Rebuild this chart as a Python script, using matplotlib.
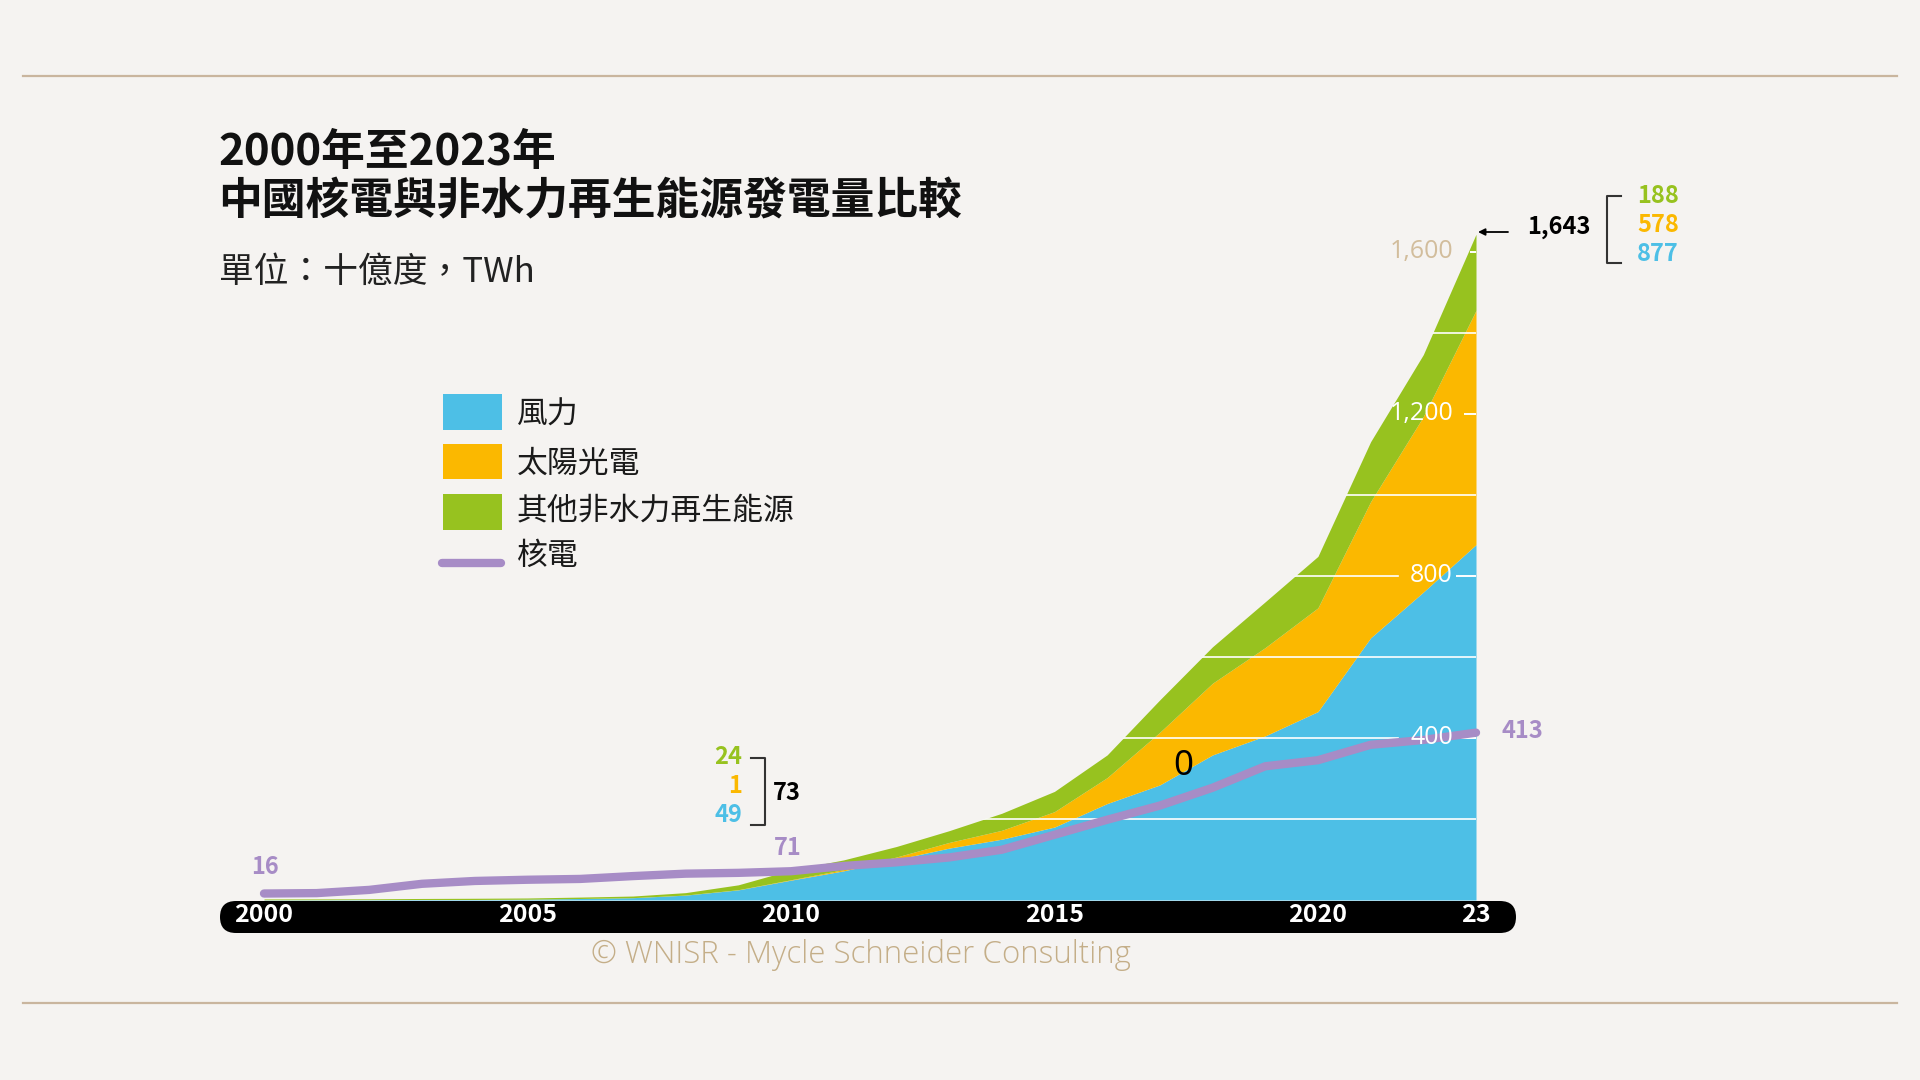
import matplotlib
matplotlib.use("Agg")
import matplotlib.pyplot as plt
from matplotlib import font_manager
from matplotlib.patches import FancyBboxPatch, Rectangle
from matplotlib.lines import Line2D
from matplotlib.transforms import IdentityTransform
import numpy as np

# ---------------- data ----------------
years = list(range(2000, 2024))
wind = [0.6, 0.7, 0.9, 1.3, 1.3, 2, 3.7, 5.7, 12, 25, 49, 72, 100, 128, 150, 180,
        238, 284, 358, 405, 465, 647, 760, 877]
solar = [0, 0, 0, 0, 0, 0, 0, 0.1, 0.2, 0.4, 1, 3, 6, 14, 22, 38,
         64, 130, 177, 218, 256, 336, 433, 578]
other = [2, 2, 2, 2.5, 3, 3, 3.5, 4, 6, 12, 24, 24, 26, 29, 42, 50,
         56, 80, 90, 113, 127, 148, 153, 188]
nuclear = [16, 17, 25, 40, 47, 50, 52, 59, 65, 67, 71, 84, 93, 105, 124, 161,
           198, 233, 277, 330, 345, 383, 395, 413]
series_names = ["風力", "太陽光電", "其他非水力再生能源", "核電"]
xtick_years = [2000, 2005, 2010, 2015, 2020, 2023]
xtick_labels = ["2000", "2005", "2010", "2015", "2020", "23"]
ytick_values = [400, 800, 1200, 1600]
ytick_labels = ["400", "800", "1,200", "1,600"]
grid_values = [200, 400, 600, 800, 1000, 1200, 1400, 1600]
title_lines = ["2000年至2023年", "中國核電與非水力再生能源發電量比較"]
subtitle = "單位：十億度，TWh"
credit = "© WNISR - Mycle Schneider Consulting"
ann_2010 = {"other": "24", "solar": "1", "wind": "49", "total": "73", "nuc": "71"}
ann_2023 = {"other": "188", "solar": "578", "wind": "877", "total": "1,643", "nuc": "413"}
ann_2000_nuc = "16"
stray_label = "0"

# ---------------- style ----------------
BG = "#f5f3f1"
C_WIND = "#4dbfe6"
C_SOLAR = "#fbb800"
C_OTHER = "#97c21f"
C_NUC = "#a78cc6"
C_TAN = "#c9b59e"
C_TICKTAN = "#d2bd9c"
C_CREDIT = "#c4ae88"

CJK = ["Noto Sans CJK TC", "DejaVu Sans"]
names = {f.name for f in font_manager.fontManager.ttflist}
OPEN = "Open Sans" if "Open Sans" in names else "DejaVu Sans"

plt.rcParams["font.family"] = CJK

W, H = 1920, 1080
fig = plt.figure(figsize=(19.2, 10.8), dpi=100, facecolor=BG)


def P(x, ytop):
    return (x / W, 1 - ytop / H)


# axes geometry: 2000 -> 264 px, 2023 -> 1476 px; 0 -> 900 px (from top), 0.4052 px per TWh
X0, X1 = 264, 1476
Y0 = 900
PPU = 0.4052
YMAX = 1700
ax = fig.add_axes([X0 / W, (H - Y0) / H, (X1 - X0) / W, YMAX * PPU / H])
ax.set_xlim(2000, 2023)
ax.set_ylim(0, YMAX)
ax.axis("off")
ax.set_facecolor("none")

yrs = np.array(years)
w = np.array(wind, dtype=float)
s = np.array(solar, dtype=float)
o = np.array(other, dtype=float)
ws = w + s
tot = ws + o

ax.fill_between(yrs, 0, w, color=C_WIND, lw=0, zorder=1, clip_on=False)
ax.fill_between(yrs, w, ws, color=C_SOLAR, lw=0, zorder=1, clip_on=False)
ax.fill_between(yrs, ws, tot, color=C_OTHER, lw=0, zorder=1, clip_on=False)
clip_poly = ax.fill_between(yrs, 0, tot, color="none", lw=0, zorder=0)
clip_path = clip_poly.get_paths()[0]


def px2x(px):
    return 2000 + (px - X0) / (X1 - X0) * 23


# gridlines (white, visible only inside filled area)
line_end = {400: 1398, 800: 1398, 1200: 1383, 1600: 1385}
dash_start = {400: 1458, 800: 1456, 1200: 1464, 1600: 1470}
for gv in grid_values:
    xend = px2x(line_end[gv]) if gv in line_end else 2023
    ln, = ax.plot([2000, xend], [gv, gv], color="white", lw=1.2, zorder=2)
    ln.set_clip_path(clip_path, ax.transData)
    if gv in dash_start:
        ax.plot([px2x(dash_start[gv]), 2023], [gv, gv], color="white", lw=1.4,
                zorder=2, solid_capstyle="butt")

for v, lab in zip(ytick_values, ytick_labels):
    col = C_TICKTAN if v == 1600 else "white"
    ax.text(px2x(1453), v, lab, ha="right", va="center", fontsize=18,
            family=[OPEN, "DejaVu Sans"], fontweight="normal", color=col, zorder=5)

# nuclear line
ax.plot(yrs, nuclear, color=C_NUC, lw=6, solid_capstyle="round",
        solid_joinstyle="round", zorder=4, clip_on=False)

# ---------------- figure decorations ----------------
fig.add_artist(Line2D([23 / W, 1897 / W], [1 - 76 / H] * 2, color=C_TAN, lw=1.6))
fig.add_artist(Line2D([23 / W, 1897 / W], [1 - 1003 / H] * 2, color=C_TAN, lw=1.6))

# titles
fig.text(*P(218, 152), title_lines[0], fontsize=31.5, fontweight="bold", va="center",
         ha="left", color="#111111")
fig.text(*P(218, 201), title_lines[1], fontsize=31.5, fontweight="bold", va="center",
         ha="left", color="#111111")
fig.text(*P(219, 272), subtitle, fontsize=25, va="center", ha="left", color="#222222")

# legend
leg_y = [(394, 430), (444, 479), (494, 530)]
for (yt, yb), c in zip(leg_y, [C_WIND, C_SOLAR, C_OTHER]):
    fig.add_artist(Rectangle(P(443, yb), 59 / W, (yb - yt) / H, facecolor=c,
                             edgecolor="none", transform=fig.transFigure))
fig.add_artist(Line2D([442 / W, 501 / W], [1 - 563 / H] * 2, color=C_NUC, lw=6,
                      solid_capstyle="round"))
for yc, name in zip([415, 464, 511, 556], series_names):
    fig.text(*P(517, yc), name, fontsize=22.2, va="center", ha="left", color="#1a1a1a")

# x-axis bar
fig.add_artist(FancyBboxPatch((220, H - 933), 1516 - 220, 32,
                              boxstyle="round,pad=0,rounding_size=16",
                              transform=IdentityTransform(), facecolor="black",
                              edgecolor="none"))
for yv, lab in zip(xtick_years, xtick_labels):
    xp = X0 + (yv - 2000) / 23 * (X1 - X0)
    fig.text(*P(xp, 915), lab, fontsize=18, fontweight="bold", color="white",
             ha="center", va="center")

# credit
fig.text(*P(861, 955), credit, fontsize=22.5, color=C_CREDIT, ha="center", va="center",
         family=[OPEN, "DejaVu Sans"], fontweight="light")

# annotations: nuclear values
fig.text(*P(265, 867), ann_2000_nuc, fontsize=17, fontweight="bold", color=C_NUC,
         ha="center", va="center")
fig.text(*P(788, 848), ann_2010["nuc"], fontsize=17, fontweight="bold", color=C_NUC,
         ha="center", va="center")
fig.text(*P(1502, 731), ann_2023["nuc"], fontsize=17, fontweight="bold", color=C_NUC,
         ha="left", va="center")

# 2010 breakdown
fig.text(*P(742, 757), ann_2010["other"], fontsize=17, fontweight="bold", color=C_OTHER,
         ha="right", va="center")
fig.text(*P(742, 786), ann_2010["solar"], fontsize=17, fontweight="bold", color=C_SOLAR,
         ha="right", va="center")
fig.text(*P(742, 815), ann_2010["wind"], fontsize=17, fontweight="bold", color=C_WIND,
         ha="right", va="center")
fig.add_artist(Line2D([751 / W, 765 / W, 765 / W, 751 / W],
                      [1 - 758 / H, 1 - 758 / H, 1 - 825 / H, 1 - 825 / H],
                      color="#333333", lw=1.5))
fig.text(*P(773, 793), ann_2010["total"], fontsize=17, fontweight="bold", color="black",
         ha="left", va="center")

# 2023 breakdown
fig.text(*P(1527, 227), ann_2023["total"], fontsize=17, fontweight="bold", color="black",
         ha="left", va="center")
ax.annotate("", xy=(1478, H - 232), xycoords="figure pixels",
            xytext=(1508, H - 232), textcoords="figure pixels",
            arrowprops=dict(arrowstyle="-|>", color="black", lw=1.3,
                            mutation_scale=10, shrinkA=0, shrinkB=0))
fig.add_artist(Line2D([1621 / W, 1607 / W, 1607 / W, 1621 / W],
                      [1 - 196 / H, 1 - 196 / H, 1 - 263 / H, 1 - 263 / H],
                      color="#333333", lw=1.5))
fig.text(*P(1637, 196), ann_2023["other"], fontsize=17, fontweight="bold", color=C_OTHER,
         ha="left", va="center")
fig.text(*P(1637, 225), ann_2023["solar"], fontsize=17, fontweight="bold", color=C_SOLAR,
         ha="left", va="center")
fig.text(*P(1637, 254), ann_2023["wind"], fontsize=17, fontweight="bold", color=C_WIND,
         ha="left", va="center")

# stray label as in reference
fig.text(*P(1183, 766), stray_label, fontsize=25, color="black", ha="center", va="center",
         family=["Noto Sans", "DejaVu Sans"])

fig.savefig("out.png", dpi=100, facecolor=BG)
